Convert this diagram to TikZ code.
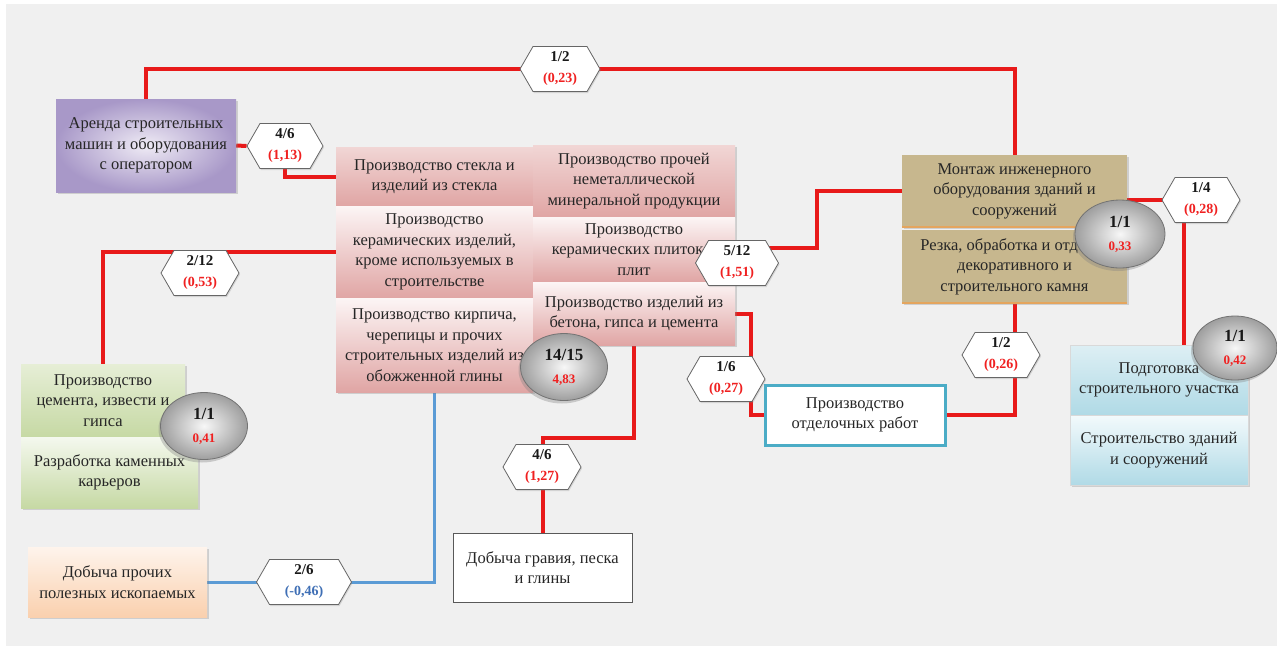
\documentclass[tikz,border=0pt]{standalone}
\usepackage{fontspec}
\setmainfont{Liberation Serif}
\usetikzlibrary{shapes.symbols,shapes.geometric,shadows,calc}
\definecolor{bggray}{HTML}{F0F0F0}
\definecolor{lnred}{HTML}{E81A1A}
\definecolor{lnblue}{HTML}{5B9BD5}
\definecolor{txred}{HTML}{F02020}
\definecolor{txblue}{HTML}{3F6FB5}
\definecolor{pinkA}{HTML}{F1D6D5}
\definecolor{pinkB}{HTML}{E0A5A4}
\definecolor{pinkW}{HTML}{FCF5F5}
\definecolor{purA}{HTML}{EFEBF5}
\definecolor{purB}{HTML}{A898C8}
\definecolor{grnA}{HTML}{E6EED6}
\definecolor{grnW}{HTML}{F4F8EE}
\definecolor{grnB}{HTML}{C6D9A4}
\definecolor{orW}{HTML}{FEF4EC}
\definecolor{orB}{HTML}{FAD0AE}
\definecolor{tanbox}{HTML}{C7B78E}
\definecolor{tanedge}{HTML}{E4A55E}
\definecolor{bluA}{HTML}{DDEFF4}
\definecolor{bluW}{HTML}{F3FAFC}
\definecolor{bluB}{HTML}{B0DAE6}
\definecolor{cyanedge}{HTML}{4BACC6}
\newcommand\boxfont{\fontsize{16.5}{20.5}\selectfont}
\newcommand\hexlab[3][txred]{{\fontsize{15}{15}\selectfont\bfseries #2}\\{\fontsize{14}{14}\selectfont\bfseries\color{#1}#3}}
\newcommand\elllab[2]{{\fontsize{17}{17}\selectfont\bfseries #1}\\{\fontsize{13}{13}\selectfont\bfseries\color{txred}#2}}
\pgfdeclarelayer{back}
\pgfdeclarelayer{lines}
\pgfsetlayers{back,lines,main}
\tikzset{
  box/.style={rectangle, inner sep=2pt, align=center, font=\boxfont, text=black!85},
  shad/.style={drop shadow={opacity=0.3, shadow xshift=2pt, shadow yshift=-2pt}},
  vgrad/.style 2 args={top color=#1, bottom color=#2},
  hexa/.style={signal, signal to=east and west, signal pointer angle=120,
    draw=black!60, line width=0.8pt, fill=white, inner sep=1pt,
    minimum height=45, minimum width=#1, align=center,
    font=\fontsize{14}{21}\selectfont, text=black!90,
    drop shadow={opacity=0.25, shadow xshift=1pt, shadow yshift=-1.5pt}},
  ell/.style={ellipse, draw=black!55, line width=0.8pt, shading=radial,
    inner color=white!97!black, outer color=black!38, inner sep=0pt,
    minimum width=87, minimum height=67, align=center,
    font=\fontsize{14}{23}\selectfont, text=black!90,
    drop shadow={opacity=0.35, shadow xshift=-2pt, shadow yshift=-3pt}},
  rl/.style={draw=lnred, line width=4pt},
  bl/.style={draw=lnblue, line width=3pt},
}
\begin{document}
\begin{tikzpicture}[x=1pt, y=-1pt]
\useasboundingbox (0,0) rectangle (1277,646);
\begin{pgfonlayer}{back}
\fill[white] (0,0) rectangle (1277,646);
\fill[bggray] (6,4) rectangle (1277,646);
\end{pgfonlayer}

% boxes
\node[box, shad, shading=radial, inner color=purA, outer color=purB,
  minimum width=180, minimum height=93] (arenda) at (146,145.5)
  {Аренда строительных\\машин и оборудования\\с оператором};

\node[box, shad, vgrad={pinkA}{pinkB}, minimum width=197, minimum height=59] (glass) at (434.5,176.5)
  {Производство стекла и\\изделий из стекла};
\node[box, shad, vgrad={pinkW}{pinkB}, minimum width=197, minimum height=92] (ceramic) at (434.5,252)
  {Производство\\керамических изделий,\\кроме используемых в\\строительстве};
\node[box, shad, vgrad={pinkW}{pinkB}, minimum width=197, minimum height=94] (brick) at (434.5,345)
  {Производство кирпича,\\черепицы и прочих\\строительных изделий из\\обожженной глины};
\node[box, shad, vgrad={pinkA}{pinkB}, minimum width=202, minimum height=72] (proch) at (634,181)
  {Производство прочей\\неметаллической\\минеральной продукции};
\node[box, shad, vgrad={pinkW}{pinkB}, minimum width=202, minimum height=65] (plitki) at (634,249.5)
  {Производство\\керамических плиток и\\плит};
\node[box, shad, vgrad={pinkW}{pinkB}, minimum width=202, minimum height=63] (beton) at (634,313.5)
  {Производство изделий из\\бетона, гипса и цемента};

\node[box, shad, vgrad={grnA}{grnB}, minimum width=164, minimum height=73] (green1) at (103,400.5)
  {Производство\\цемента, извести и\\гипса};
\node[box, shad, vgrad={grnW}{grnB}, minimum width=177, minimum height=71] (green2) at (109.5,472.5)
  {Разработка каменных\\карьеров};

\node[box, shad, vgrad={orW}{orB}, minimum width=179, minimum height=70] (orange) at (117.5,582)
  {Добыча прочих\\полезных ископаемых};

\node[box, fill=white, draw=black!65, line width=0.8pt, minimum width=179, minimum height=69] (gravel) at (542.5,567.5)
  {Добыча гравия, песка\\и глины};

\node[box, fill=white, draw=cyanedge, line width=3pt, minimum width=180, minimum height=60] (otdel) at (855,415)
  {Производство\\отделочных работ};

\node[box, shad, fill=tanbox, minimum width=225, minimum height=72] (montazh) at (1014.5,191)
  {Монтаж инженерного\\оборудования зданий и\\сооружений};
\node[box, shad, fill=tanbox, minimum width=225, minimum height=73] (rezka) at (1014.5,266.5)
  {Резка, обработка и отделка\\декоративного и\\строительного камня};
\draw[tanedge, line width=1.6pt] (montazh.south west) -- (montazh.south east);
\draw[tanedge, line width=1.6pt] (rezka.south west) -- (rezka.south east);

\node[box, shad, vgrad={bluA}{bluB}, draw=black!15, minimum width=178, minimum height=70] (podgot) at (1159,380)
  {Подготовка\\строительного участка};
\node[box, shad, vgrad={bluW}{bluB}, draw=black!15, minimum width=178, minimum height=70] (stroit) at (1159,450)
  {Строительство зданий\\и сооружений};

% hexagons
\node[hexa=80] (h12) at (560,69) {\hexlab{1/2}{(0,23)}};
\node[hexa=76] (h46a) at (285,146) {\hexlab{4/6}{(1,13)}};
\node[hexa=78] (h212) at (200,273) {\hexlab{2/12}{(0,53)}};
\node[hexa=95] (h26) at (304,582) {\hexlab[txblue]{2/6}{(-0,46)}};
\node[hexa=78] (h46b) at (542,467) {\hexlab{4/6}{(1,27)}};
\node[hexa=78] (h16) at (726,379) {\hexlab{1/6}{(0,27)}};
\node[hexa=83] (h512) at (737,263) {\hexlab{5/12}{(1,51)}};
\node[hexa=78] (h12b) at (1001,355) {\hexlab{1/2}{(0,26)}};
\node[hexa=78] (h14) at (1201,200) {\hexlab{1/4}{(0,28)}};

% ellipses
\node[ell] (c1415) at (564,367) {\elllab{14/15}{4,83}};
\node[ell] (c041) at (204,426) {\elllab{1/1}{0,41}};
\node[ell, minimum width=90, minimum height=68] (c033) at (1120,234) {\elllab{1/1}{0,33}};
\node[ell, minimum width=84, minimum height=64] (c042) at (1235,348) {\elllab{1/1}{0,42}};

% bend points
\coordinate (b1) at (634,438);
\coordinate (b2) at (751,380);
\coordinate (b3) at (817,220);

\begin{pgfonlayer}{lines}
\draw[rl] (arenda.north) |- (h12.center) -| (montazh.north);
\draw[rl] (arenda.east) -- (h46a.west);
\draw[rl] (h46a.center) |- (glass.west);
\draw[rl] (ceramic.west) -| (green1.north);
\draw[bl] (orange.east) -| (brick.south);
\draw[rl] (beton.south) -- (b1) -| (gravel.north);
\draw[rl] (beton.east) -| (b2) |- (otdel.west);
\draw[rl] (otdel.east) -| (rezka.south);
\draw[rl] ([yshift=15pt]h512.center) -| (b3) |- (montazh.west);
\draw[rl] (montazh.east |- h14.center) -- (h14.center);
\draw[rl] ([xshift=-17pt]h14.center) -- ([xshift=-17pt]h14.center |- podgot.north);
\end{pgfonlayer}
\end{tikzpicture}
\end{document}
